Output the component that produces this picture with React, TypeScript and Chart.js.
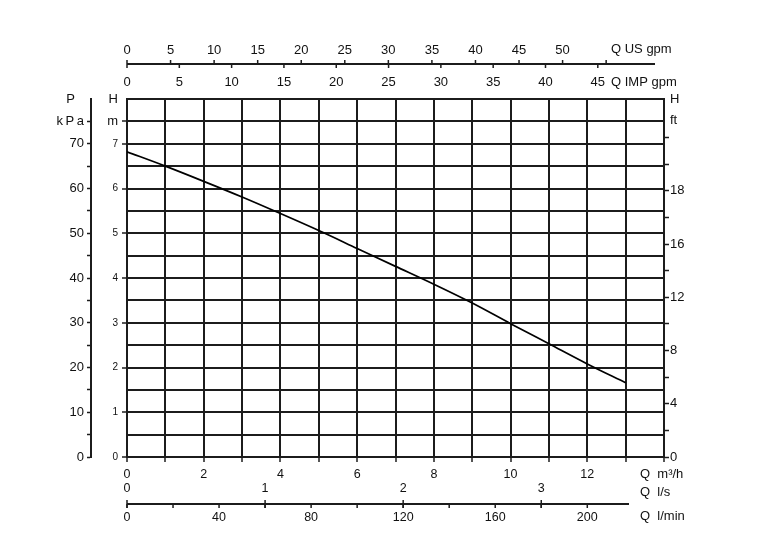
import { useEffect, useRef } from 'react';
import { Chart, registerables } from 'chart.js';

Chart.register(...registerables);

// ---- data ----
const FLOW_M3H = [0, 1, 2, 3, 4, 5, 6, 7, 8, 9, 10, 11, 12, 13];
const HEAD_M = [6.82, 6.5, 6.16, 5.81, 5.44, 5.06, 4.66, 4.26, 3.86, 3.44, 2.98, 2.53, 2.08, 1.66];

// main axes
const X_MAX_M3H = 14;
const X_TICKS_M3H = [0, 1, 2, 3, 4, 5, 6, 7, 8, 9, 10, 11, 12, 13, 14];
const X_LABELS_M3H = [0, 2, 4, 6, 8, 10, 12];
const H_MAX_M = 8;
const H_TICKS_M = [0, 0.5, 1, 1.5, 2, 2.5, 3, 3.5, 4, 4.5, 5, 5.5, 6, 6.5, 7, 7.5, 8];
const H_LABELS_M = [0, 1, 2, 3, 4, 5, 6, 7];

// pressure axis
const KPA_MAX = 80;
const KPA_TICKS = [0, 5, 10, 15, 20, 25, 30, 35, 40, 45, 50, 55, 60, 65, 70, 75, 80];
const KPA_LABELS = [0, 10, 20, 30, 40, 50, 60, 70];

// feet axis
const FT_MAX = 26.9;
const FT_TICKS = [0, 2, 4, 6, 8, 10, 12, 14, 16, 18, 20, 22, 24, 25.3, 26.9];
const FT_LABEL_VALUES = [0, 4, 8, 12, 16, 20];
const FT_LABEL_TEXTS = ['0', '4', '8', '12', '16', '18'];

// secondary flow axes
const US_GPM_PER_M3H = 4.4029;
const IMP_GPM_PER_M3H = 3.6662;
const LS_PER_M3H = 1 / 3.6;
const LMIN_PER_M3H = 1000 / 60;
const US_GPM_TICKS = [0, 5, 10, 15, 20, 25, 30, 35, 40, 45, 50, 55];
const US_GPM_LABELS = [0, 5, 10, 15, 20, 25, 30, 35, 40, 45, 50];
const IMP_GPM_TICKS = [0, 5, 10, 15, 20, 25, 30, 35, 40, 45];
const IMP_GPM_LABELS = [0, 5, 10, 15, 20, 25, 30, 35, 40, 45];
const LS_TICKS = [0, 1, 2, 3];
const LMIN_TICKS = [0, 20, 40, 60, 80, 100, 120, 140, 160, 180, 200];
const LMIN_LABELS = [0, 40, 80, 120, 160, 200];

// ---- styles ----
const FONT = "'Liberation Sans', Arial, Helvetica, sans-serif";
const INK = '#1c1c1c';
const TEXT = '#111111';
const CLEAR = 'rgba(0,0,0,0)';

const secondaryAxesPlugin = {
  id: 'secondaryAxes',
  afterDraw(chart: any) {
    const { ctx, chartArea, scales } = chart;
    const us = scales.us;
    const imp = scales.imp;
    const ls = scales.ls;
    const lmin = scales.lmin;
    const seg = (x1: number, y1: number, x2: number, y2: number) => {
      ctx.beginPath();
      ctx.moveTo(x1, y1);
      ctx.lineTo(x2, y2);
      ctx.stroke();
    };
    ctx.save();
    ctx.strokeStyle = INK;
    ctx.fillStyle = TEXT;
    ctx.textBaseline = 'middle';

    // top: US gpm above, IMP gpm below a shared line
    const topY = chartArea.top - 35;
    ctx.lineWidth = 2;
    seg(us.getPixelForValue(0), topY, chartArea.right - 9, topY);
    ctx.lineWidth = 1.5;
    US_GPM_TICKS.forEach((v) => {
      const x = us.getPixelForValue(v);
      seg(x, topY, x, topY - 4);
    });
    IMP_GPM_TICKS.forEach((v) => {
      const x = imp.getPixelForValue(v);
      seg(x, topY, x, topY + 4);
    });
    ctx.font = `13px ${FONT}`;
    ctx.textAlign = 'center';
    US_GPM_LABELS.forEach((v) => ctx.fillText(String(v), us.getPixelForValue(v), topY - 14));
    IMP_GPM_LABELS.forEach((v) => ctx.fillText(String(v), imp.getPixelForValue(v), topY + 18));
    ctx.textAlign = 'left';
    ctx.fillText('Q US gpm', chartArea.right - 53, topY - 15);
    ctx.fillText('Q IMP gpm', chartArea.right - 53, topY + 18);

    // bottom: l/s above, l/min below a shared line
    const botY = chartArea.bottom + 47;
    ctx.lineWidth = 2;
    seg(ls.getPixelForValue(0), botY, chartArea.right - 35, botY);
    ctx.lineWidth = 1.5;
    LMIN_TICKS.forEach((v) => {
      const x = lmin.getPixelForValue(v);
      seg(x, botY, x, botY + 4);
    });
    LS_TICKS.forEach((v) => {
      const x = ls.getPixelForValue(v);
      seg(x, botY - 4, x, botY + 4);
    });
    ctx.font = `12.5px ${FONT}`;
    ctx.textAlign = 'center';
    LS_TICKS.forEach((v) => ctx.fillText(String(v), ls.getPixelForValue(v), botY - 15));
    LMIN_LABELS.forEach((v) => ctx.fillText(String(v), lmin.getPixelForValue(v), botY + 14));
    ctx.font = `13px ${FONT}`;
    ctx.textAlign = 'left';
    ctx.fillText('Q  m³/h', chartArea.right - 24, chartArea.bottom + 17);
    ctx.fillText('Q  l/s', chartArea.right - 24, botY - 12);
    ctx.fillText('Q  l/min', chartArea.right - 24, botY + 12);
    ctx.restore();
  },
};

export default function App() {
  const ref = useRef<HTMLCanvasElement>(null);

  useEffect(() => {
    const canvas = ref.current;
    if (!canvas) return;
    const hideUnlabeled = (labels: number[]) => (c: any) =>
      c.tick && labels.includes(c.tick.value) ? INK : CLEAR;

    const chart = new Chart(canvas, {
      type: 'line',
      data: {
        datasets: [
          {
            data: FLOW_M3H.map((x, i) => ({ x, y: HEAD_M[i] })),
            borderColor: '#000000',
            borderWidth: 1.7,
            pointRadius: 0,
            cubicInterpolationMode: 'monotone',
            xAxisID: 'x',
            yAxisID: 'y',
          },
        ],
      },
      options: {
        responsive: false,
        animation: false,
        devicePixelRatio: 1,
        layout: { padding: { left: 0, top: 99, right: 63, bottom: 63 } },
        plugins: { legend: { display: false }, tooltip: { enabled: false } },
        scales: {
          x: {
            type: 'linear',
            position: 'bottom',
            min: 0,
            max: X_MAX_M3H,
            afterBuildTicks: (s: any) => {
              s.ticks = X_TICKS_M3H.map((v) => ({ value: v }));
            },
            grid: { color: INK, lineWidth: 2, tickLength: 5, tickWidth: 1.5 },
            border: { color: INK, width: 2 },
            ticks: {
              autoSkip: false,
              maxRotation: 0,
              padding: 5,
              color: TEXT,
              font: { family: FONT, size: 12.5 },
              callback: (v: any) => (X_LABELS_M3H.includes(v) ? String(v) : ''),
            },
            afterFit: (s: any) => {
              s.height = 25;
            },
          },
          y: {
            type: 'linear',
            position: 'left',
            weight: 0,
            min: 0,
            max: H_MAX_M,
            afterBuildTicks: (s: any) => {
              s.ticks = H_TICKS_M.map((v) => ({ value: v }));
            },
            grid: {
              color: INK,
              lineWidth: 2,
              tickLength: 5,
              tickWidth: 1.5,
              tickColor: hideUnlabeled([...H_LABELS_M, 7.5]),
            },
            border: { color: INK, width: 2 },
            ticks: {
              padding: 4,
              color: TEXT,
              font: (c: any) => ({
                family: FONT,
                size: c.tick && c.tick.value > 7.2 ? 13 : 10,
              }),
              callback: (v: any) => {
                if (v === 8) return 'H';
                if (v === 7.5) return 'm';
                return H_LABELS_M.includes(v) ? String(v) : '';
              },
            },
            afterFit: (s: any) => {
              s.width = 36;
            },
          },
          kpa: {
            type: 'linear',
            position: 'left',
            weight: 1,
            min: 0,
            max: KPA_MAX,
            afterBuildTicks: (s: any) => {
              s.ticks = KPA_TICKS.map((v) => ({ value: v }));
            },
            grid: {
              drawOnChartArea: false,
              tickLength: 4,
              tickWidth: 1.5,
              tickColor: hideUnlabeled(KPA_TICKS.filter((v) => v !== KPA_MAX)),
            },
            border: { display: true, color: INK, width: 2 },
            ticks: {
              padding: 3,
              color: TEXT,
              font: { family: FONT, size: 13 },
              callback: (v: any) => {
                if (v === 80) return 'P\u2002\u2009';
                if (v === 75) return 'k\u2009P\u2009a';
                return KPA_LABELS.includes(v) ? String(v) : '';
              },
            },
            afterFit: (s: any) => {
              s.width = 91;
            },
          },
          ft: {
            type: 'linear',
            position: 'right',
            min: 0,
            max: FT_MAX,
            afterBuildTicks: (s: any) => {
              s.ticks = FT_TICKS.map((v) => ({ value: v }));
            },
            grid: {
              drawOnChartArea: false,
              tickLength: 5,
              tickWidth: 1.5,
              tickColor: (c: any) => (c.tick && c.tick.value <= 24 ? INK : CLEAR),
            },
            border: { display: true, color: INK, width: 2 },
            ticks: {
              padding: 1,
              color: TEXT,
              font: { family: FONT, size: 13 },
              callback: (v: any) => {
                if (v === FT_MAX) return 'H';
                if (v === 25.3) return 'ft';
                const i = FT_LABEL_VALUES.indexOf(v);
                return i >= 0 ? FT_LABEL_TEXTS[i] : '';
              },
            },
            afterFit: (s: any) => {
              s.width = 40;
            },
          },
          us: { type: 'linear', position: 'top', display: false, min: 0, max: X_MAX_M3H * US_GPM_PER_M3H },
          imp: { type: 'linear', position: 'top', display: false, min: 0, max: X_MAX_M3H * IMP_GPM_PER_M3H },
          ls: { type: 'linear', position: 'bottom', display: false, min: 0, max: X_MAX_M3H * LS_PER_M3H },
          lmin: { type: 'linear', position: 'bottom', display: false, min: 0, max: X_MAX_M3H * LMIN_PER_M3H },
        },
      } as any,
      plugins: [secondaryAxesPlugin],
    });
    return () => chart.destroy();
  }, []);

  return (
    <div style={{ position: 'fixed', left: 0, top: 0, width: 767, height: 545, background: '#ffffff' }}>
      <canvas ref={ref} width={767} height={545} style={{ display: 'block' }} />
    </div>
  );
}
